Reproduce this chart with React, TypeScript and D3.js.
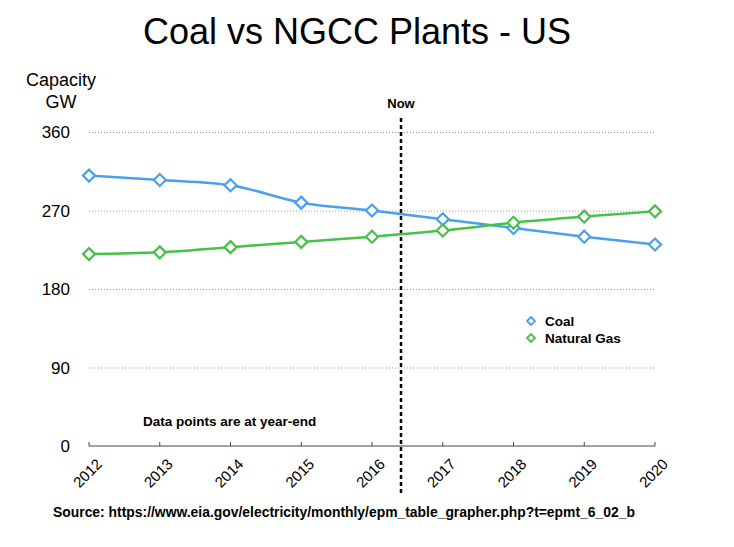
import React, { useRef, useEffect } from 'react';
import * as d3 from 'd3';

const years = [2012, 2013, 2014, 2015, 2016, 2017, 2018, 2019, 2020];
const coal = [310, 305, 299, 279, 270, 260, 250, 240, 231];
const naturalGas = [220, 222, 228, 234, 240, 247, 256, 263, 269];
const yTicks = [0, 90, 180, 270, 360];
const nowYear = 2016.41;

const App: React.FC = () => {
  const svgRef = useRef<SVGSVGElement>(null);

  useEffect(() => {
    if (!svgRef.current) return;
    const width = 734;
    const height = 547;
    const svg = d3.select(svgRef.current);
    svg.selectAll('*').remove();
    svg.attr('width', width).attr('height', height)
      .style('font-family', '"Liberation Sans", Arial, sans-serif')
      .style('background', '#fff');

    const x = d3.scaleLinear().domain([2012, 2020]).range([89, 655]);
    const y = d3.scaleLinear().domain([0, 360]).range([446, 132]);

    // Title
    svg.append('text')
      .attr('x', 357).attr('y', 44)
      .attr('text-anchor', 'middle')
      .style('font-size', '36px')
      .text('Coal vs NGCC Plants - US');

    // Y axis label
    svg.append('text').attr('x', 61).attr('y', 86).attr('text-anchor', 'middle')
      .style('font-size', '18px').text('Capacity');
    svg.append('text').attr('x', 61).attr('y', 108).attr('text-anchor', 'middle')
      .style('font-size', '18px').text('GW');

    // Grid lines
    svg.append('g').selectAll('line')
      .data(yTicks.filter(d => d > 0))
      .join('line')
      .attr('x1', x(2012)).attr('x2', x(2020))
      .attr('y1', d => y(d) + 0.5).attr('y2', d => y(d) + 0.5)
      .attr('stroke', '#999').attr('stroke-width', 1)
      .attr('stroke-dasharray', '1,2');

    // Y tick labels
    svg.append('g').selectAll('text')
      .data(yTicks)
      .join('text')
      .attr('x', 70).attr('y', d => y(d) + 6)
      .attr('text-anchor', 'end')
      .style('font-size', '17px')
      .text(d => d);

    // X axis
    const xAxis = svg.append('g').attr('transform', `translate(0,${y(0)})`);
    xAxis.append('line')
      .attr('x1', x(2012)).attr('x2', x(2020))
      .attr('stroke', '#444').attr('stroke-width', 1);
    xAxis.selectAll('.tick')
      .data(years)
      .join('line')
      .attr('class', 'tick')
      .attr('x1', d => x(d)).attr('x2', d => x(d))
      .attr('y1', -4).attr('y2', 0)
      .attr('stroke', '#444');
    xAxis.selectAll('.year')
      .data(years)
      .join('text')
      .attr('class', 'year')
      .attr('text-anchor', 'end')
      .attr('transform', d => `translate(${x(d) + 14},${19}) rotate(-45)`)
      .style('font-size', '15px')
      .text(d => d);

    // Now line
    svg.append('line')
      .attr('x1', x(nowYear)).attr('x2', x(nowYear))
      .attr('y1', 118).attr('y2', 495)
      .attr('stroke', '#000').attr('stroke-width', 2.5)
      .attr('stroke-dasharray', '4,3');
    svg.append('text')
      .attr('x', x(nowYear)).attr('y', 108)
      .attr('text-anchor', 'middle')
      .style('font-size', '13px').style('font-weight', 'bold')
      .text('Now');

    const series = [
      { name: 'Coal', values: coal, color: '#4aa0ea' },
      { name: 'Natural Gas', values: naturalGas, color: '#48c04a' },
    ];

    const line = d3.line<number>()
      .x((_, i) => x(years[i]))
      .y(d => y(d))
      .curve(d3.curveMonotoneX);

    const diamond = (cx: number, cy: number, r: number) =>
      `M${cx},${cy - r}L${cx + r},${cy}L${cx},${cy + r}L${cx - r},${cy}Z`;

    series.forEach(s => {
      svg.append('path')
        .datum(s.values)
        .attr('d', line)
        .attr('fill', 'none')
        .attr('stroke', s.color)
        .attr('stroke-width', 2.5);
      svg.append('g').selectAll('path')
        .data(s.values)
        .join('path')
        .attr('d', (d, i) => diamond(x(years[i]), y(d), 6))
        .attr('fill', '#fff')
        .attr('stroke', s.color)
        .attr('stroke-width', 2.2);
    });

    // Legend
    const legend = svg.append('g');
    series.forEach((s, i) => {
      const ly = 321 + i * 17;
      legend.append('path')
        .attr('d', diamond(531, ly, 4))
        .attr('fill', '#fff')
        .attr('stroke', s.color)
        .attr('stroke-width', 1.8);
      legend.append('text')
        .attr('x', 545).attr('y', ly + 5)
        .style('font-size', '13.5px').style('font-weight', 'bold')
        .text(s.name);
    });

    // Notes
    svg.append('text')
      .attr('x', 143).attr('y', 426)
      .style('font-size', '13.5px').style('font-weight', 'bold')
      .text('Data points are at year-end');
    svg.append('text')
      .attr('x', 53).attr('y', 517)
      .style('font-size', '13.9px').style('font-weight', 'bold')
      .text('Source: https://www.eia.gov/electricity/monthly/epm_table_grapher.php?t=epmt_6_02_b');
  }, []);

  return <svg ref={svgRef} style={{ position: 'absolute', left: 0, top: 0 }} />;
};

export default App;
